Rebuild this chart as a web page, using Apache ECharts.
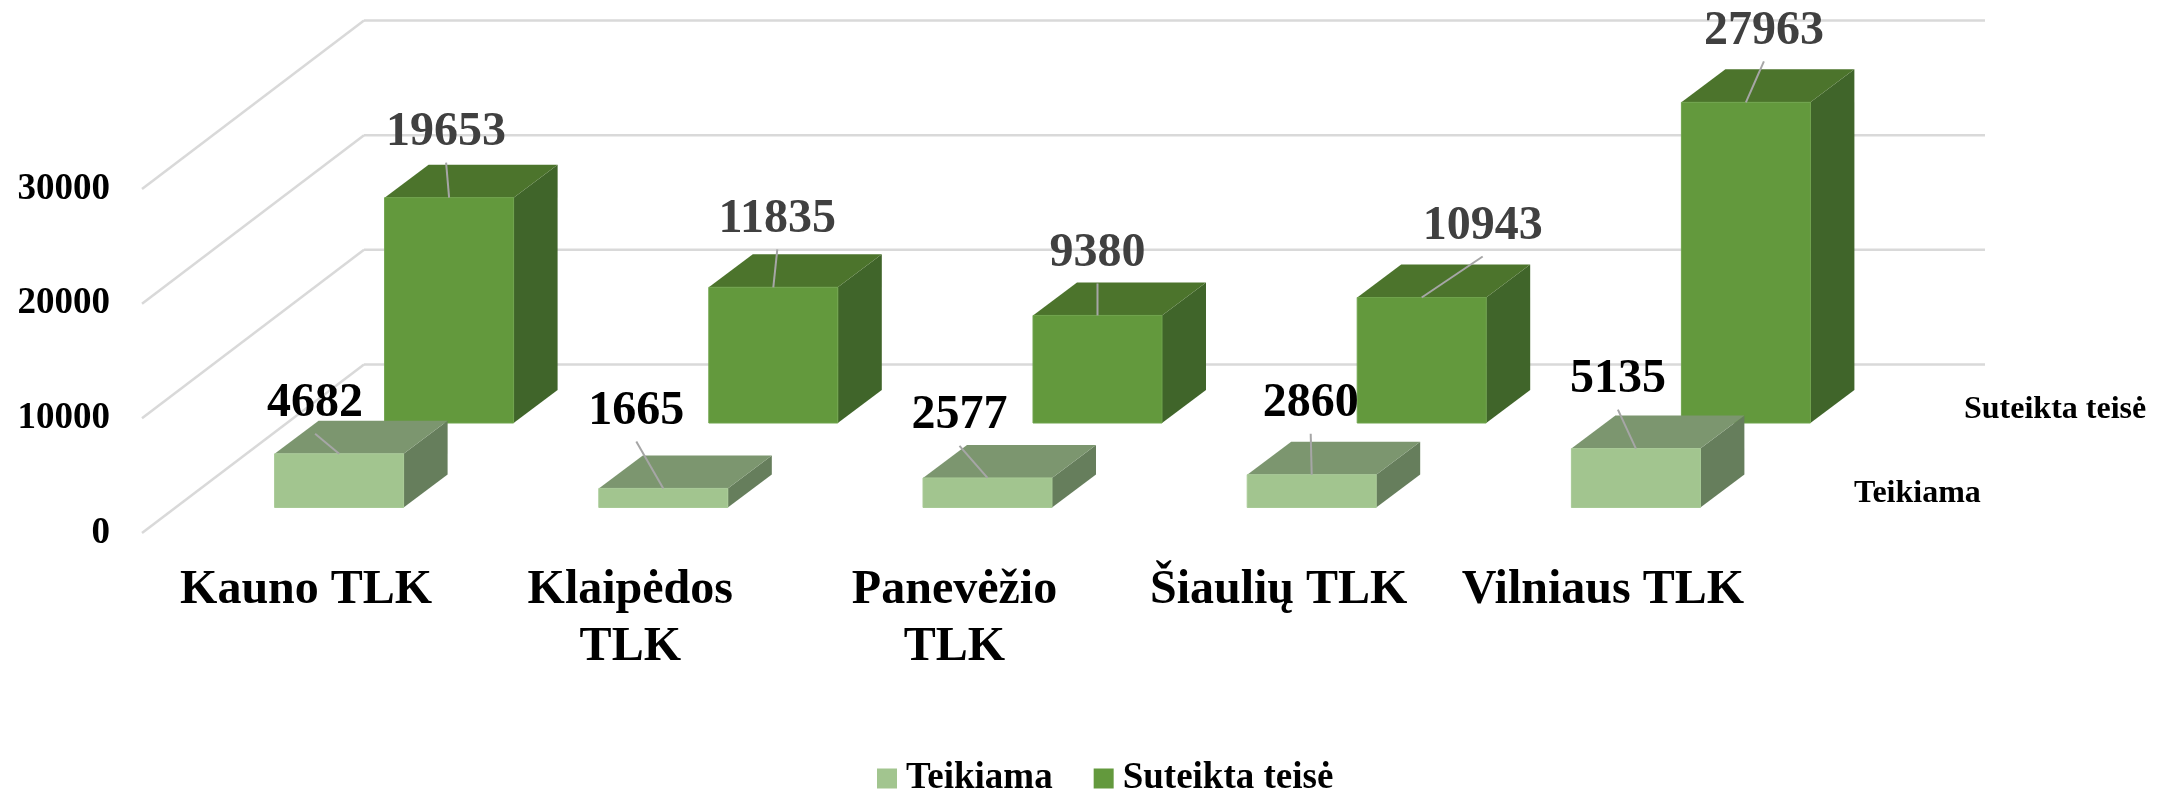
<!DOCTYPE html>
<html><head><meta charset="utf-8">
<style>html,body{margin:0;padding:0;background:#fff}#c{width:2168px;height:792px}</style>
<script src="https://cdn.jsdelivr.net/npm/echarts@6/dist/echarts.min.js"></script>
</head><body><div id="c"></div>
<script>
const categories = ['Kauno TLK', 'Klaipėdos\nTLK', 'Panevėžio\nTLK', 'Šiaulių TLK', 'Vilniaus TLK'];
const teikiama = [4682, 1665, 2577, 2860, 5135];
const suteikta = [19653, 11835, 9380, 10943, 27963];
const yTicks = [0, 10000, 20000, 30000];
const seriesNames = ['Teikiama', 'Suteikta teisė'];

// layout: label offsets from the centre of each bar's top front edge
const teikiamaLabelOffsets = [[-24, -50], [-27, -77], [-28, -62], [-1, -71], [-18, -69]];
const suteiktaLabelOffsets = [[-3, -65], [4, -68], [0, -62], [61, -71], [18, -71]];

const FONT = '"Liberation Serif","Times New Roman",serif';
const WALL = [222, -168.5];    // full floor depth vector
const BAR_DEPTH = [44, -33];   // depth vector of one bar
const BAR_W = 129;
const LEADER_GAP = 30;

function box(api, rowShift, colors, offsets) {
  const i = api.value(0), v = api.value(1);
  const base = api.coord([i, 0]), top = api.coord([i, v]);
  const cx = base[0] + rowShift[0];
  const yb = base[1] + rowShift[1], yt = top[1] + rowShift[1];
  const xl = cx - BAR_W / 2, xr = cx + BAR_W / 2;
  const [dx, dy] = BAR_DEPTH;
  const off = offsets[i];
  const lx = cx + off[0], ly = yt + off[1];
  return {
    type: 'group',
    children: [
      { type: 'polygon', shape: { points: [[xr, yb], [xr + dx, yb + dy], [xr + dx, yt + dy], [xr, yt]] }, style: { fill: colors.side } },
      { type: 'polygon', shape: { points: [[xl, yt], [xr, yt], [xr + dx, yt + dy], [xl + dx, yt + dy]] }, style: { fill: colors.top } },
      { type: 'polygon', shape: { points: [[xl, yb], [xr, yb], [xr, yt], [xl, yt]] }, style: { fill: colors.front, stroke: colors.edge, lineWidth: 1 } },
      { type: 'line', shape: { x1: cx, y1: yt, x2: lx, y2: ly + LEADER_GAP }, style: { stroke: '#a6a6a6', lineWidth: 2 } },
      { type: 'text', x: lx, y: ly, style: { text: String(v), fill: colors.label, font: 'bold 48px ' + FONT, textAlign: 'center', textVerticalAlign: 'middle' } }
    ]
  };
}

function renderWall(params, api) {
  const v = api.value(0);
  const rect = params.coordSys;
  const p = api.coord([0, v]);
  const x0 = rect.x, y = p[1];
  return {
    type: 'group',
    children: [
      { type: 'line', shape: { x1: x0, y1: y, x2: x0 + WALL[0], y2: y + WALL[1] }, style: { stroke: '#d9d9d9', lineWidth: 2.5 } },
      { type: 'line', shape: { x1: x0 + WALL[0], y1: y + WALL[1], x2: x0 + WALL[0] + rect.width, y2: y + WALL[1] }, style: { stroke: '#d9d9d9', lineWidth: 2.5 } }
    ]
  };
}

const frontColors = { front: '#a2c58f', edge: '#a8ca96', top: '#7c966f', side: '#667e5c', label: '#000000' };
const backColors = { front: '#63993d', edge: '#6fa34c', top: '#4c742c', side: '#40652a', label: '#404040' };

const chart = echarts.init(document.getElementById('c'), null, { renderer: 'canvas' });
chart.setOption({
  animation: false,
  backgroundColor: '#ffffff',
  grid: { left: 142, top: 189, width: 1621, height: 344 },
  xAxis: {
    type: 'category', data: categories,
    axisLine: { show: false }, axisTick: { show: false }, splitLine: { show: false },
    axisLabel: { interval: 0, margin: 29, color: '#000', fontFamily: FONT, fontWeight: 'bold', fontSize: 48, lineHeight: 57, padding: [0, 0, 0, 4] }
  },
  yAxis: {
    type: 'value', min: 0, max: 30000, interval: 10000,
    axisLine: { show: false }, axisTick: { show: false }, splitLine: { show: false },
    axisLabel: { margin: 32, color: '#000', fontFamily: FONT, fontWeight: 'bold', fontSize: 37, formatter: v => String(v) }
  },
  legend: {
    data: seriesNames, left: 872, top: 755, icon: 'rect', itemWidth: 20, itemHeight: 20, itemGap: 41,
    textStyle: { color: '#000', fontFamily: FONT, fontWeight: 'bold', fontSize: 37, padding: [0, 0, 0, 4] }
  },
  graphic: [
    { type: 'text', left: 1964, top: 394, style: { text: seriesNames[1], fill: '#000', font: 'bold 32px ' + FONT } },
    { type: 'text', left: 1854, top: 478, style: { text: seriesNames[0], fill: '#000', font: 'bold 32px ' + FONT } }
  ],
  series: [
    { type: 'custom', name: 'wall', silent: true, clip: false, coordinateSystem: 'cartesian2d', encode: { y: 0 }, data: yTicks.map(t => [t]),
      renderItem: (p, api) => renderWall(p, api) },
    { type: 'custom', name: seriesNames[1], clip: false, itemStyle: { color: backColors.front },
      encode: { x: 0, y: 1 }, data: suteikta.map((v, i) => [i, v]),
      renderItem: (p, api) => box(api, [145, -110], backColors, suteiktaLabelOffsets) },
    { type: 'custom', name: seriesNames[0], clip: false, itemStyle: { color: frontColors.front },
      encode: { x: 0, y: 1 }, data: teikiama.map((v, i) => [i, v]),
      renderItem: (p, api) => box(api, [35, -25.5], frontColors, teikiamaLabelOffsets) }
  ]
});
</script></body></html>
